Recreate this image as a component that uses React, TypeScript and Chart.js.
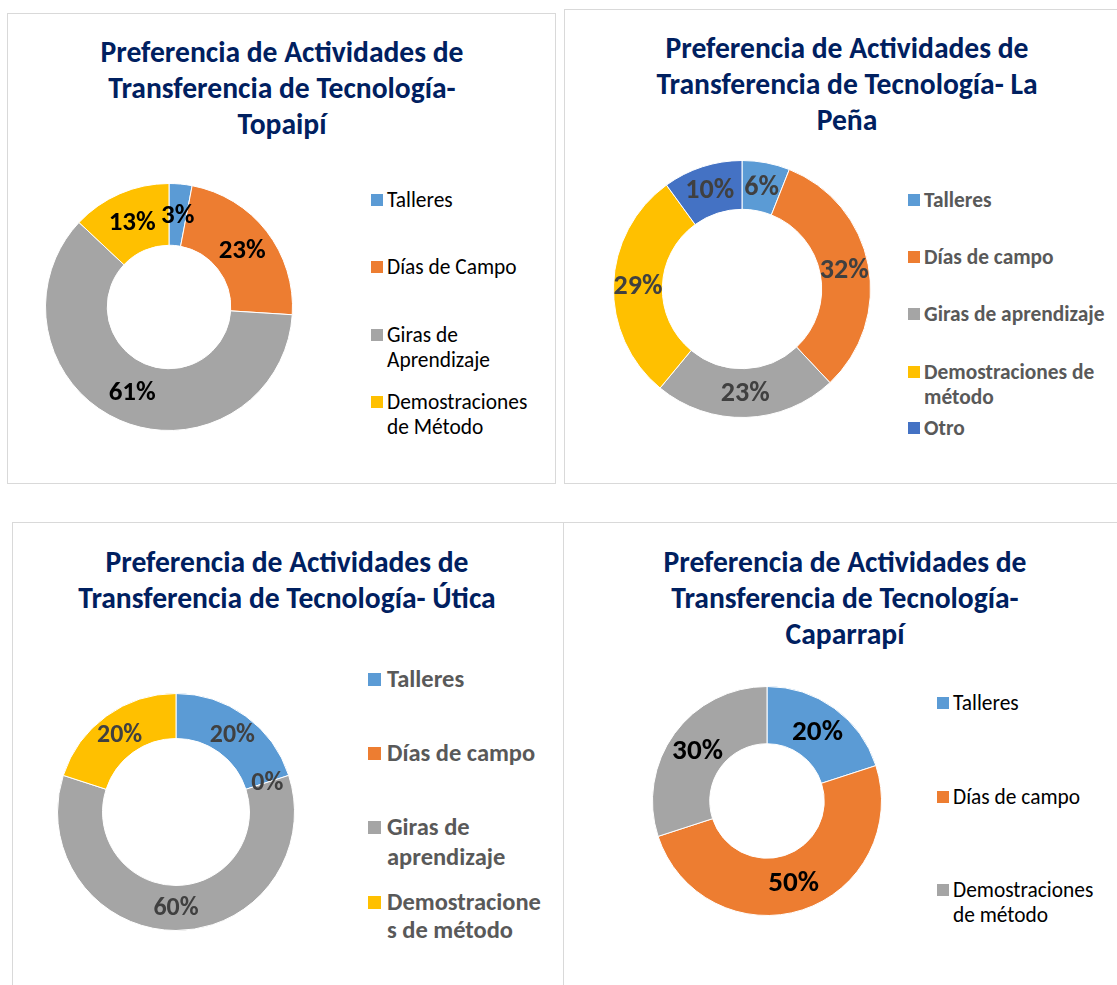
import React, { useEffect, useRef } from "react";
import { Chart, registerables } from "chart.js";

Chart.register(...registerables);

// ---------------- data ----------------
const TOPAIPI_TITLE = ["Preferencia de Actividades de", "Transferencia de Tecnología-", "Topaipí"];
const TOPAIPI_CATEGORIES = ["Talleres", "Días de Campo", "Giras de Aprendizaje", "Demostraciones de Método"];
const TOPAIPI_VALUES = [3, 23, 61, 13];
const TOPAIPI_LEGEND = [["Talleres"], ["Días de Campo"], ["Giras de", "Aprendizaje"], ["Demostraciones", "de Método"]];

const LAPENA_TITLE = ["Preferencia de Actividades de", "Transferencia de Tecnología- La", "Peña"];
const LAPENA_CATEGORIES = ["Talleres", "Días de campo", "Giras de aprendizaje", "Demostraciones de método", "Otro"];
const LAPENA_VALUES = [6, 32, 23, 29, 10];
const LAPENA_LEGEND = [["Talleres"], ["Días de campo"], ["Giras de aprendizaje"], ["Demostraciones de", "método"], ["Otro"]];

const UTICA_TITLE = ["Preferencia de Actividades de", "Transferencia de Tecnología- Útica"];
const UTICA_CATEGORIES = ["Talleres", "Días de campo", "Giras de aprendizaje", "Demostraciones de método"];
const UTICA_VALUES = [20, 0, 60, 20];
const UTICA_LEGEND = [["Talleres"], ["Días de campo"], ["Giras de", "aprendizaje"], ["Demostracione", "s de método"]];

const CAPARRAPI_TITLE = ["Preferencia de Actividades de", "Transferencia de Tecnología-", "Caparrapí"];
const CAPARRAPI_CATEGORIES = ["Talleres", "Días de campo", "Demostraciones de método"];
const CAPARRAPI_VALUES = [20, 50, 30];
const CAPARRAPI_LEGEND = [["Talleres"], ["Días de campo"], ["Demostraciones", "de método"]];

// ---------------- styles ----------------
const BLUE = "#5B9BD5";
const ORANGE = "#ED7D31";
const GRAY = "#A5A5A5";
const YELLOW = "#FFC000";
const DARKBLUE = "#4472C4";
const TITLE_COLOR = "#002060";
const FONT = "Carlito, Calibri, Lato, 'Liberation Sans', sans-serif";
const K = 1.02; // size factor for substitute font
const KL = 1.08; // size factor for data labels

const pctLabels = {
  id: "pctLabels",
  afterDatasetsDraw(chart: any, _args: any, opts: any) {
    const ctx = chart.ctx;
    const meta = chart.getDatasetMeta(0);
    const data: number[] = chart.data.datasets[0].data;
    const total = data.reduce((a, b) => a + b, 0);
    ctx.save();
    ctx.font = `bold ${opts.size}px ${FONT}`;
    ctx.fillStyle = opts.color;
    ctx.textAlign = "center";
    ctx.textBaseline = "middle";
    meta.data.forEach((arc: any, i: number) => {
      const p = arc.getCenterPoint();
      ctx.fillText(Math.round((data[i] / total) * 100) + "%", p.x, p.y + 1);
    });
    ctx.restore();
  },
};

type PanelCfg = {
  box: [number, number, number, number];
  title: string[];
  titleCx: number;
  titleYs: number[];
  titleSize: number;
  categories: string[];
  values: number[];
  colors: string[];
  cx: number;
  cy: number;
  r: number;
  cutout: string;
  labelSize: number;
  labelColor: string;
  legend: string[][];
  sqX: number;
  sq: number;
  textX: number;
  legendYs: number[][];
  legendSize: number;
  legendBold: boolean;
  legendColor: string;
};

function Donut({ cfg }: { cfg: PanelCfg }) {
  const ref = useRef<HTMLCanvasElement>(null);
  useEffect(() => {
    const chart = new Chart(ref.current as HTMLCanvasElement, {
      type: "doughnut",
      data: {
        labels: cfg.categories,
        datasets: [
          {
            data: cfg.values,
            backgroundColor: cfg.colors,
            borderColor: "#ffffff",
            borderWidth: 1,
          },
        ],
      },
      options: {
        responsive: false,
        animation: false,
        events: [],
        cutout: cfg.cutout,
        layout: { padding: 0 },
        plugins: {
          legend: { display: false },
          title: { display: false },
          tooltip: { enabled: false },
          // @ts-ignore
          pctLabels: { size: cfg.labelSize * KL, color: cfg.labelColor },
        },
      } as any,
      plugins: [pctLabels as any],
    });
    return () => chart.destroy();
  }, []);
  const size = 2 * cfg.r + 2;
  return (
    <canvas
      ref={ref}
      width={size}
      height={size}
      style={{ position: "absolute", left: cfg.cx - size / 2, top: cfg.cy - size / 2, width: size, height: size }}
    />
  );
}

function Panel({ cfg }: { cfg: PanelCfg }) {
  const [l, t, w, h] = cfg.box;
  const ts = cfg.titleSize * K;
  const ls = cfg.legendSize * K;
  return (
    <>
      <div
        style={{
          position: "absolute",
          left: l,
          top: t,
          width: w,
          height: h,
          border: "1px solid #D9D9D9",
          boxSizing: "border-box",
        }}
      />
      {cfg.title.map((line, i) => (
        <div
          key={"t" + i}
          style={{
            position: "absolute",
            left: cfg.titleCx - 300,
            width: 600,
            top: cfg.titleYs[i] - 20,
            height: 40,
            lineHeight: "40px",
            textAlign: "center",
            fontFamily: FONT,
            fontWeight: 700,
            fontSize: ts,
            color: TITLE_COLOR,
            whiteSpace: "nowrap",
          }}
        >
          {line}
        </div>
      ))}
      <Donut cfg={cfg} />
      {cfg.legend.map((lines, i) => (
        <React.Fragment key={"l" + i}>
          <div
            style={{
              position: "absolute",
              left: cfg.sqX,
              top: cfg.legendYs[i][0] - cfg.sq / 2,
              width: cfg.sq,
              height: cfg.sq,
              background: cfg.colors[i],
            }}
          />
          {lines.map((txt, j) => (
            <div
              key={j}
              style={{
                position: "absolute",
                left: cfg.textX,
                top: cfg.legendYs[i][j] - 15,
                height: 30,
                lineHeight: "30px",
                fontFamily: FONT,
                fontWeight: cfg.legendBold ? 700 : 400,
                fontSize: ls,
                color: cfg.legendColor,
                whiteSpace: "nowrap",
              }}
            >
              {txt}
            </div>
          ))}
        </React.Fragment>
      ))}
    </>
  );
}

const PANELS: PanelCfg[] = [
  {
    box: [7, 13, 549, 471],
    title: TOPAIPI_TITLE,
    titleCx: 282,
    titleYs: [52, 88, 124],
    titleSize: 29,
    categories: TOPAIPI_CATEGORIES,
    values: TOPAIPI_VALUES,
    colors: [BLUE, ORANGE, GRAY, YELLOW],
    cx: 169,
    cy: 307,
    r: 123,
    cutout: "50%",
    labelSize: 25,
    labelColor: "#000000",
    legend: TOPAIPI_LEGEND,
    sqX: 371,
    sq: 12,
    textX: 387,
    legendYs: [[200], [267], [335, 360], [402, 427]],
    legendSize: 21,
    legendBold: false,
    legendColor: "#000000",
  },
  {
    box: [564, 9, 600, 475],
    title: LAPENA_TITLE,
    titleCx: 847,
    titleYs: [48, 84, 120],
    titleSize: 29,
    categories: LAPENA_CATEGORIES,
    values: LAPENA_VALUES,
    colors: [BLUE, ORANGE, GRAY, YELLOW, DARKBLUE],
    cx: 742,
    cy: 289,
    r: 128,
    cutout: "62%",
    labelSize: 26,
    labelColor: "#404040",
    legend: LAPENA_LEGEND,
    sqX: 908,
    sq: 12,
    textX: 924,
    legendYs: [[200], [257], [314], [372, 397], [428]],
    legendSize: 21,
    legendBold: true,
    legendColor: "#595959",
  },
  {
    box: [12, 522, 552, 500],
    title: UTICA_TITLE,
    titleCx: 287,
    titleYs: [562, 598],
    titleSize: 29,
    categories: UTICA_CATEGORIES,
    values: UTICA_VALUES,
    colors: [BLUE, ORANGE, GRAY, YELLOW],
    cx: 176,
    cy: 812,
    r: 118,
    cutout: "62%",
    labelSize: 24,
    labelColor: "#404040",
    legend: UTICA_LEGEND,
    sqX: 368,
    sq: 13,
    textX: 387,
    legendYs: [[679], [753], [827, 857], [902, 930]],
    legendSize: 24,
    legendBold: true,
    legendColor: "#595959",
  },
  {
    box: [563, 522, 600, 500],
    title: CAPARRAPI_TITLE,
    titleCx: 845,
    titleYs: [562, 598, 634],
    titleSize: 29,
    categories: CAPARRAPI_CATEGORIES,
    values: CAPARRAPI_VALUES,
    colors: [BLUE, ORANGE, GRAY],
    cx: 767,
    cy: 801,
    r: 114,
    cutout: "50%",
    labelSize: 27,
    labelColor: "#000000",
    legend: CAPARRAPI_LEGEND,
    sqX: 937,
    sq: 12,
    textX: 953,
    legendYs: [[703], [797], [890, 915]],
    legendSize: 21,
    legendBold: false,
    legendColor: "#000000",
  },
];

export default function App() {
  return (
    <div
      style={{
        position: "absolute",
        left: 0,
        top: 0,
        width: 1117,
        height: 985,
        overflow: "hidden",
        background: "#ffffff",
      }}
    >
      {PANELS.map((p, i) => (
        <Panel key={i} cfg={p} />
      ))}
    </div>
  );
}
